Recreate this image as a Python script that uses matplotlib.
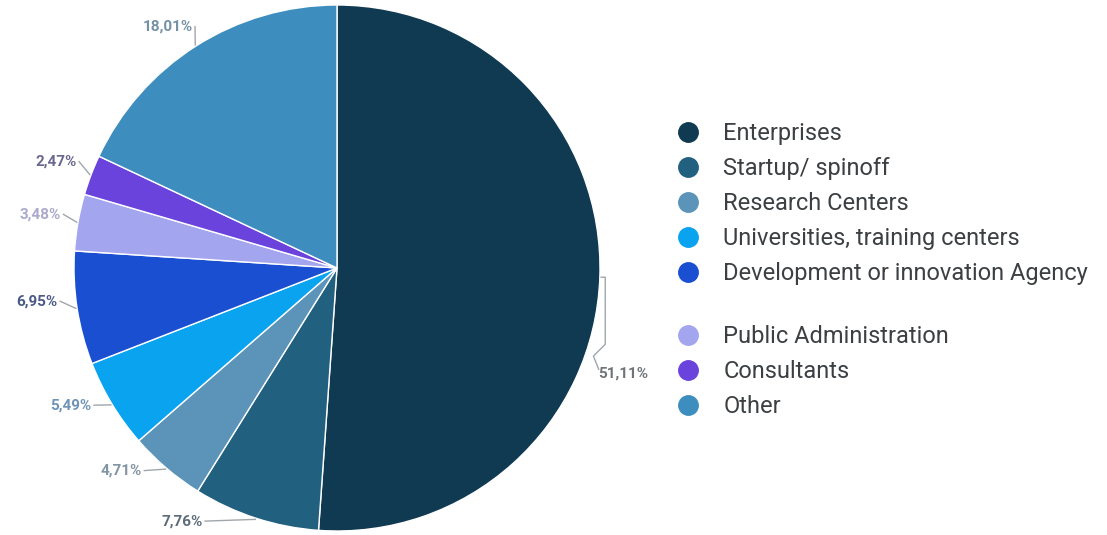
import numpy as np
import matplotlib.pyplot as plt
from matplotlib.lines import Line2D

plt.rcParams['font.family'] = ['Roboto', 'DejaVu Sans']

categories = ["Enterprises", "Startup/ spinoff", "Research Centers",
              "Universities, training centers", "Development or innovation Agency",
              "Public Administration", "Consultants", "Other"]
shares = [51.11, 7.76, 4.71, 5.49, 6.95, 3.48, 2.47, 18.01]
pct_labels = ["51,11%", "7,76%", "4,71%", "5,49%", "6,95%", "3,48%", "2,47%", "18,01%"]

colors = ["#0f3a52", "#22607f", "#5b94b8", "#0aa3ef", "#1b4fd2",
          "#a3a5ee", "#6a43dc", "#3d8ebf"]
label_colors = ["#6f7478", "#5e6c7a", "#8394a4", "#6f93b5", "#4a5a84",
                "#aaaacc", "#6a6890", "#7491a6"]
# how far (degrees, clockwise) each label is pushed from its slice middle
label_nudge = [20, 10, 3.5, 2, 2, 1, 1.5, 1.5]

fig = plt.figure(figsize=(11.07, 5.35), dpi=100)
W, H = 1107, 535
cx, cy, r = 337, 267, 263
ax = fig.add_axes([(cx - r) / W, (cy - r) / H, 2 * r / W, 2 * r / H])

wedges, _ = ax.pie(shares, colors=colors, startangle=90, counterclock=False,
                   radius=1.0, wedgeprops=dict(edgecolor="white", linewidth=1.0))
ax.set_xlim(-1, 1)
ax.set_ylim(-1, 1)
ax.set_aspect("equal")
ax.axis("off")

line_c = "#a0a6ab"
for i, w in enumerate(wedges):
    mid = (w.theta1 + w.theta2) / 2.0
    a = np.deg2rad(mid)
    b = np.deg2rad(mid - label_nudge[i])
    ex, ey = np.cos(a), np.sin(a)
    dist = 1.09 if i == 1 else 1.07
    tx, ty = dist * np.cos(b), dist * np.sin(b)
    if i == 0:
        # bracket-like leader for the big slice
        ax.plot([ex + 0.005, 1.02, 1.02, 0.975, 0.995],
                [ey, ey, -0.29, -0.335, -0.385], color=line_c, lw=1.0, clip_on=False)
        ax.text(tx, ty, pct_labels[i], color=label_colors[i], fontsize=11,
                fontweight="bold", ha="left", va="center")
        continue
    ax.plot([1.005 * ex, tx + 0.01], [1.005 * ey, ty],
            color=line_c, lw=1.0, clip_on=False)
    ax.text(tx, ty, pct_labels[i], color=label_colors[i], fontsize=11,
            fontweight="bold", ha="right", va="center")

handles = [Line2D([], [], linestyle="none", marker="o", markersize=14,
                  markerfacecolor=c, markeredgecolor=c) for c in colors]

leg_kw = dict(loc="upper left", frameon=False, fontsize=17, labelspacing=0.51,
              handletextpad=1.0, handlelength=1.0, borderpad=0, borderaxespad=0,
              labelcolor="#3c4043")
fig.legend(handles[:5], categories[:5], bbox_to_anchor=(676 / W, 1 - 122 / H), **leg_kw)
fig.legend(handles[5:], categories[5:], bbox_to_anchor=(676 / W, 1 - 325 / H), **leg_kw)

fig.savefig("out.png", dpi=100)
